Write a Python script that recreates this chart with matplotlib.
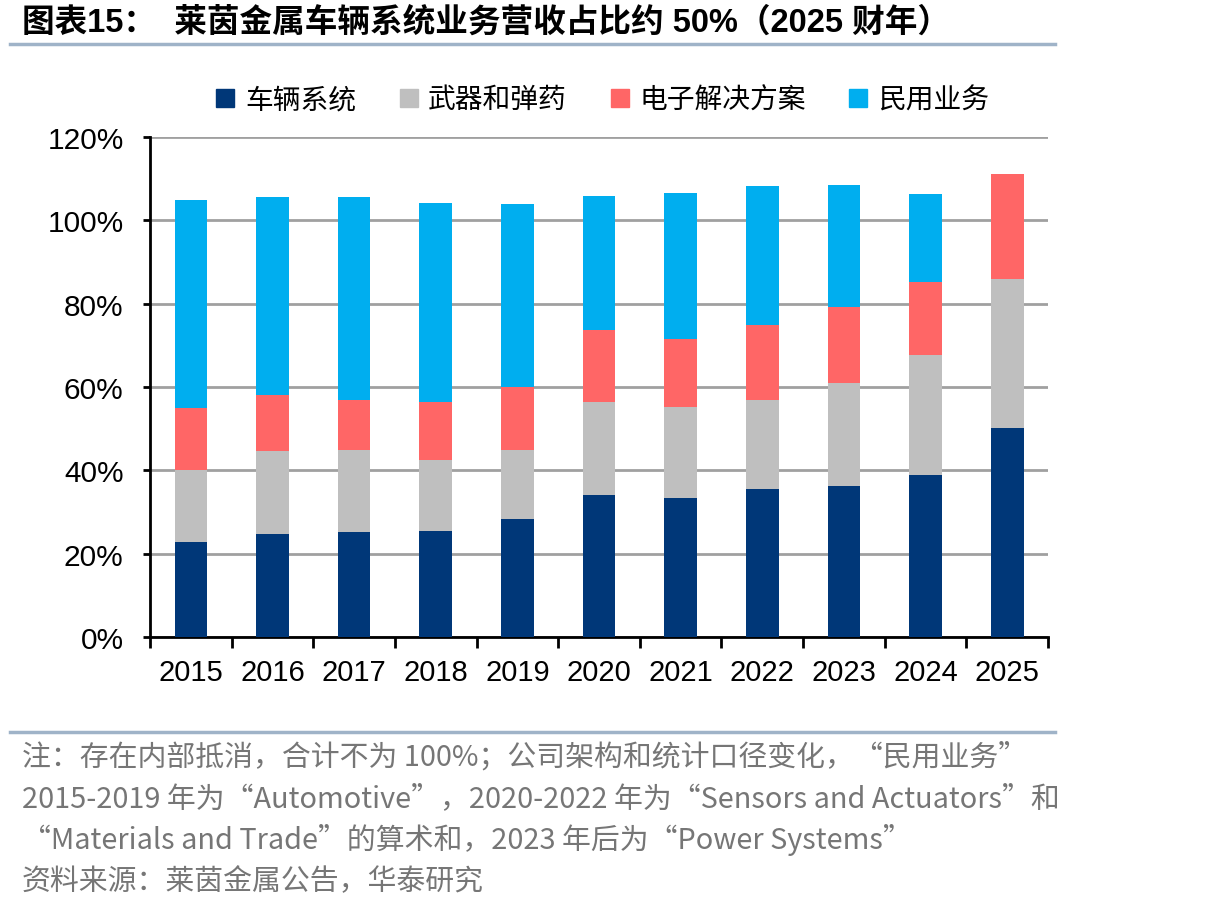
import matplotlib
matplotlib.use("Agg")
import matplotlib.pyplot as plt
import numpy as np
from matplotlib.lines import Line2D

plt.rcParams['font.family'] = ['Liberation Sans', 'Noto Sans CJK SC', 'DejaVu Sans']

# values (% of revenue)
years = ["2015", "2016", "2017", "2018", "2019", "2020", "2021", "2022", "2023", "2024", "2025"]
vehicle = [22.9, 24.7, 25.1, 25.4, 28.4, 34.0, 33.3, 35.5, 36.2, 38.8, 50.1]
weapons = [17.1, 20.0, 19.9, 17.2, 16.4, 22.3, 21.9, 21.3, 24.7, 28.8, 35.8]
electronics = [14.9, 13.3, 11.9, 13.8, 15.3, 17.4, 16.4, 18.1, 18.4, 17.6, 25.3]
civil = [50.0, 47.6, 48.6, 47.8, 43.9, 32.1, 35.0, 33.3, 29.1, 21.1, 0.0]

series_names = ["车辆系统", "武器和弹药", "电子解决方案", "民用业务"]
colors = ["#003778", "#bfbfbf", "#ff6666", "#00aeef"]

fig = plt.figure(figsize=(12.06, 9.12), dpi=100)
ax = fig.add_axes([0.1244, 0.3004, 0.869 - 0.1244, 0.8487 - 0.3004])

x = np.arange(len(years))
bottom = np.zeros(len(years))
handles = []
for vals, name, c in zip([vehicle, weapons, electronics, civil], series_names, colors):
    vals = np.array(vals)
    ax.bar(x, vals, 0.4, bottom=bottom, color=c, zorder=3, label=name)
    bottom += vals
    handles.append(Line2D([], [], marker='s', linestyle='none', markersize=13,
                          markerfacecolor=c, markeredgecolor=c, label=name))

ax.set_ylim(0, 120)
ax.set_xlim(-0.5, len(years) - 0.5)
ax.set_yticks(np.arange(0, 121, 20))
ax.set_yticklabels([f"{v}%" for v in range(0, 121, 20)], fontsize=21.5)
ax.yaxis.grid(True, color="#a0a0a0", linewidth=2, zorder=0)
ax.set_axisbelow(True)

# year labels centred, ticks on the category boundaries
ax.set_xticks(np.arange(-0.5, len(years), 1))
ax.set_xticklabels([])
ax.set_xticks(x, minor=True)
ax.set_xticklabels(years, minor=True, fontsize=21)
ax.tick_params(axis='x', which='minor', length=0, pad=15)
ax.tick_params(axis='x', which='major', length=8, width=2, direction='out')
ax.tick_params(axis='y', length=5, width=2, direction='out', pad=14)

for s in ["top", "right"]:
    ax.spines[s].set_visible(False)
ax.spines["left"].set_linewidth(2)
ax.spines["bottom"].set_linewidth(2)

fig.legend(handles=handles, loc='center', bbox_to_anchor=(0.5, 0.89), ncol=4,
           frameon=False, handlelength=0.6, handletextpad=0.4, columnspacing=1.6,
           prop={'family': ['Noto Sans CJK SC'], 'size': 20})

fig.text(0.018, 0.975, "图表15：  莱茵金属车辆系统业务营收占比约 50%（2025 财年）",
         fontsize=23.5, fontweight='bold', va='center', ha='left')
fig.add_artist(Line2D([0.008, 0.875], [0.951, 0.951], color="#9fb3c8", linewidth=2.5))
fig.add_artist(Line2D([0.008, 0.875], [0.196, 0.196], color="#9fb3c8", linewidth=2.5))

note_color = "#767676"
notes = [
    "注：存在内部抵消，合计不为 100%；公司架构和统计口径变化，“民用业务”",
    "2015-2019 年为“Automotive”，2020-2022 年为“Sensors and Actuators”和",
    "“Materials and Trade”的算术和，2023 年后为“Power Systems”",
    "资料来源：莱茵金属公告，华泰研究",
]
ys = [0.169, 0.124, 0.079, 0.033]
for t, yy in zip(notes, ys):
    fig.text(0.018, yy, t, fontsize=20.8, color=note_color, va='center', ha='left',
             family=['Noto Sans CJK SC'])

fig.savefig("out.png", dpi=100)
